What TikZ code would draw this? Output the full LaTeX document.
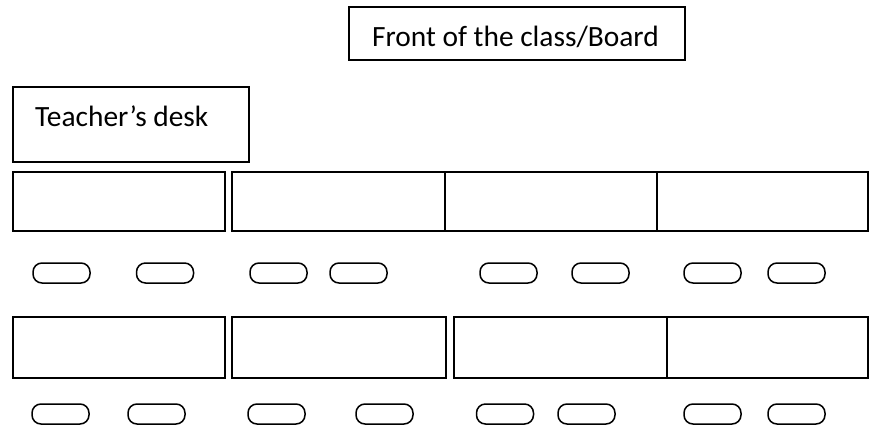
\documentclass[tikz,border=0pt]{standalone}
\usepackage{fontspec}
\setmainfont{Carlito}
\begin{document}
\begin{tikzpicture}[x=1pt,y=-1pt,
  box/.style={draw, line width=1.5pt, rectangle, inner sep=0pt},
  seat/.style={draw, line width=1.5pt, rectangle, rounded corners=9pt, inner sep=0pt, minimum width=57pt, minimum height=20pt},
  lbl/.style={anchor=base west, inner sep=0pt, font=\fontsize{29.4}{32}\selectfont}]
\useasboundingbox (0,0) rectangle (870,425);
% board and teacher desk
\node[box, minimum width=336pt, minimum height=53pt] (board) at (517,33.5) {};
\node[lbl] (boardtxt) at (372,47) {Front of the class/Board};
\node[box, minimum width=236pt, minimum height=75pt] (tdesk) at (131,124.5) {};
\node[lbl] (tdesktxt) at (35,127) {Teacher’s desk};
% row 1 desks
\node[box, minimum width=212pt, minimum height=59pt] (r1a) at (119,201.5) {};
\node[box, minimum width=213pt, minimum height=59pt] (r1b) at (338.5,201.5) {};
\node[box, minimum width=212pt, minimum height=59pt] (r1c) at (551,201.5) {};
\node[box, minimum width=211pt, minimum height=59pt] (r1d) at (762.5,201.5) {};
% row 1 seats
\foreach \n/\x in {1/61.5,2/165,3/278.5,4/358.5,5/508.5,6/600.5,7/712.5,8/796.5}
  \node[seat] (s1\n) at (\x,273) {};
% row 2 desks
\node[box, minimum width=212pt, minimum height=61pt] (r2a) at (119,347.5) {};
\node[box, minimum width=214pt, minimum height=61pt] (r2b) at (339,347.5) {};
\node[box, minimum width=213pt, minimum height=61pt] (r2c) at (560.5,347.5) {};
\node[box, minimum width=201pt, minimum height=61pt] (r2d) at (767.5,347.5) {};
% row 2 seats
\foreach \n/\x in {1/60.5,2/156.5,3/276.5,4/384.5,5/505,6/586.5,7/712.5,8/796.5}
  \node[seat] (s2\n) at (\x,414) {};
\end{tikzpicture}
\end{document}
